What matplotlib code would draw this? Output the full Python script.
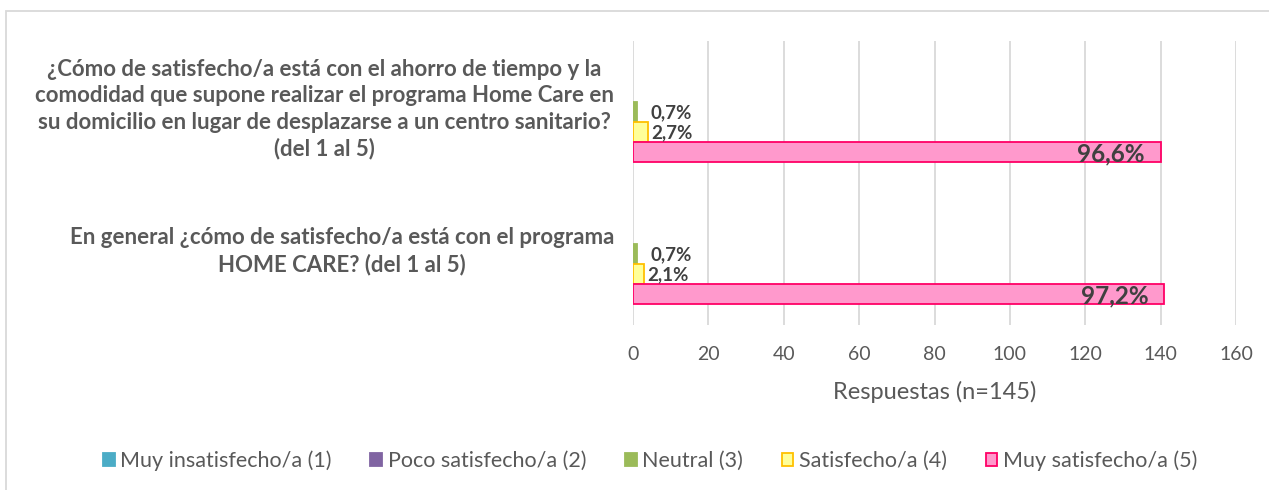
import matplotlib
matplotlib.use("Agg")
import matplotlib.pyplot as plt
import matplotlib.transforms as mtransforms
from matplotlib.patches import Rectangle, Patch
import numpy as np

categories = [
    "¿Cómo de satisfecho/a está con el ahorro de tiempo y la\ncomodidad que supone realizar el programa Home Care en\nsu domicilio en lugar de desplazarse a un centro sanitario?\n(del 1 al 5)",
    "En general ¿cómo de satisfecho/a está con el programa\nHOME CARE? (del 1 al 5)",
]
series_names = ["Muy insatisfecho/a (1)", "Poco satisfecho/a (2)", "Neutral (3)",
                "Satisfecho/a (4)", "Muy satisfecho/a (5)"]
values = {
    "Muy insatisfecho/a (1)": [0, 0],
    "Poco satisfecho/a (2)": [0, 0],
    "Neutral (3)": [1, 1],
    "Satisfecho/a (4)": [4, 3],
    "Muy satisfecho/a (5)": [140, 141],
}
pct_labels = {
    "Neutral (3)": ["0,7%", "0,7%"],
    "Satisfecho/a (4)": ["2,7%", "2,1%"],
    "Muy satisfecho/a (5)": ["96,6%", "97,2%"],
}
xticks = [0, 20, 40, 60, 80, 100, 120, 140, 160]

face = ["#4BACC6", "#8064A2", "#9BBB59", "#FFFF99", "#FF99CC"]
edge = ["#4BACC6", "#8064A2", "#9BBB59", "#FFC000", "#FF0066"]

plt.rcParams['font.family'] = ['Lato', 'DejaVu Sans']
W, H = 1269, 490
fig = plt.figure(figsize=(W/100, H/100), dpi=100)
ax = fig.add_axes([633/W, 1-325/H, (1236-633)/W, (325-41)/H])

n = len(series_names)
slot = 0.7 / n
y_cat = np.arange(len(categories))
label_offset = {"Neutral (3)": 14, "Satisfecho/a (4)": 3}
for i, s in enumerate(series_names):
    ys = y_cat - 0.35 + slot*(i+0.5)
    vals = values[s]
    lw = [1.3 if v > 0 else 0 for v in vals]
    ax.barh(ys, vals, height=slot, color=face[i], edgecolor=edge[i], linewidth=lw, zorder=3)
    if s in pct_labels:
        for y, v, lab in zip(ys, vals, pct_labels[s]):
            if s == "Muy satisfecho/a (5)":
                ax.annotate(lab, (v, y), xytext=(-16, -2), textcoords='offset pixels',
                            ha='right', va='center', fontsize=17.5, fontweight='bold',
                            color='#404040', zorder=4)
            else:
                ax.annotate(lab, (v, y), xytext=(label_offset[s], -1), textcoords='offset pixels',
                            ha='left', va='center', fontsize=13.5, fontweight='bold',
                            color='#404040', zorder=4)

ax.set_ylim(len(categories) - 0.5, -0.5)
ax.set_xlim(0, 160)
ax.set_xticks(xticks)
ax.set_yticks([])

# category labels (right edge ~19 px left of the axis)
trans = mtransforms.blended_transform_factory(ax.transAxes, ax.transData)
trans = trans + mtransforms.ScaledTranslation(-19/100, 2.5/100, fig.dpi_scale_trans)
for y, cat in zip(y_cat, categories):
    ax.text(0, y, cat, transform=trans, ha='right', va='center', multialignment='center',
            fontsize=16, fontweight='bold', color='#595959', linespacing=1.3)

ax.tick_params(axis='x', length=0, labelsize=14, labelcolor='#595959', pad=15)
ax.grid(axis='x', color='#D9D9D9', linewidth=1.3, zorder=0)
for sp in ax.spines.values():
    sp.set_visible(False)
ax.set_xlabel("Respuestas (n=145)", fontsize=17, color='#595959', labelpad=13)

handles = [Patch(facecolor=face[i], edgecolor=edge[i], linewidth=1.3) for i in range(n)]
fig.legend(handles, series_names, loc='center', bbox_to_anchor=(650/W, 1-461/H), ncol=5,
           frameon=False, fontsize=15.5, labelcolor='#595959', handlelength=0.55,
           handleheight=0.55, handletextpad=0.25, columnspacing=1.8)

fig.patches.append(Rectangle((6/W, -0.1), 1.2, 1-11/H + 0.1, transform=fig.transFigure,
                             fill=False, edgecolor='#D9D9D9', linewidth=1.3))
fig.savefig("out.png", dpi=100)
